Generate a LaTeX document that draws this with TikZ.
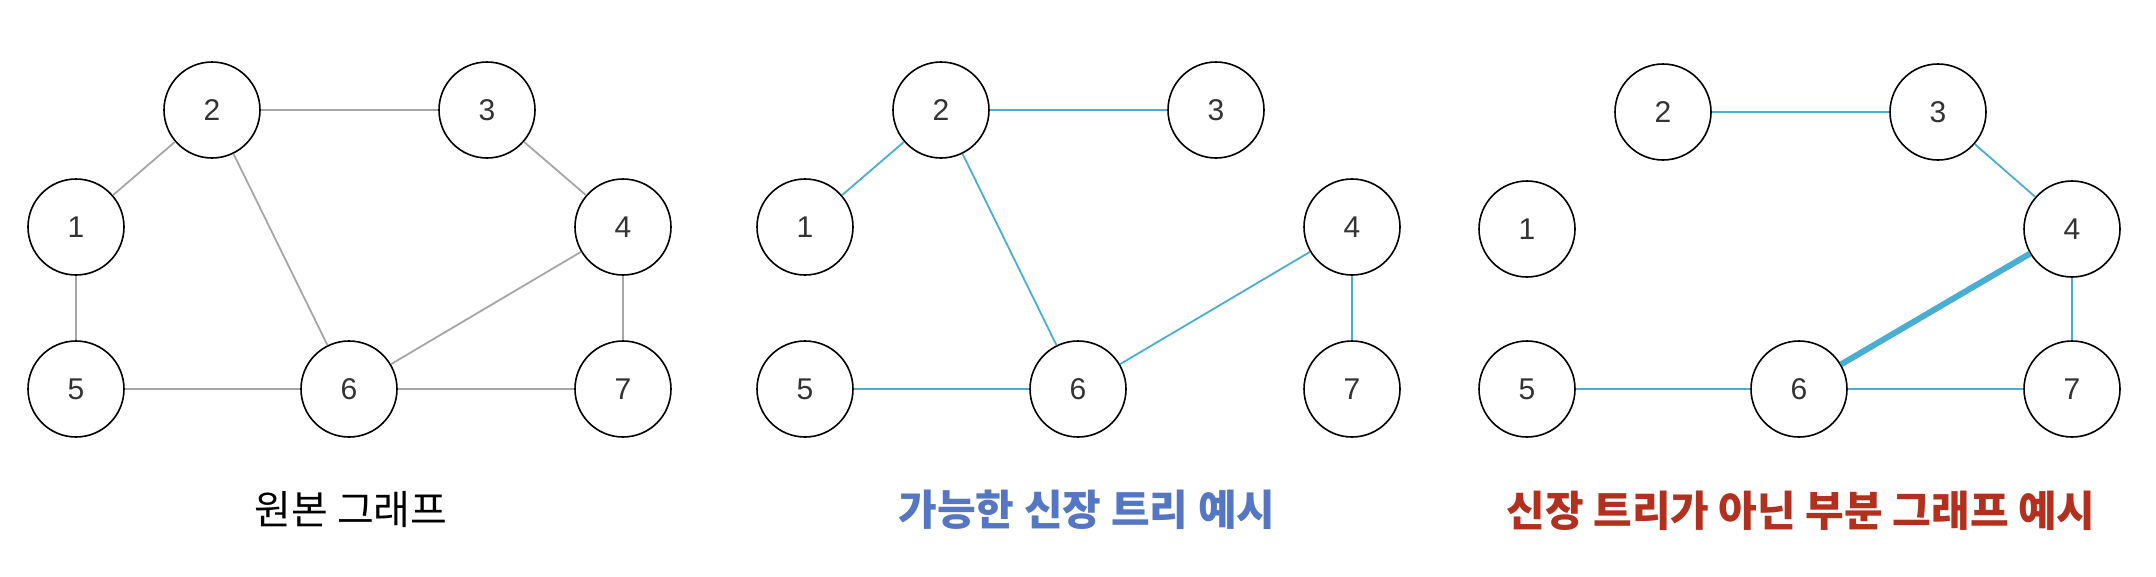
\documentclass[tikz,border=0pt]{standalone}
\usepackage{fontspec}
\setmainfont{Liberation Sans}
\newfontfamily\krfont{Noto Sans CJK KR}
\usepackage{tikz}

\definecolor{edgegray}{HTML}{A6A6A6}
\definecolor{treeblue}{HTML}{4AAED3}
\definecolor{titleblue}{HTML}{5577C3}
\definecolor{titlered}{HTML}{B3301F}

\begin{document}
\begin{tikzpicture}[x=1pt, y=-1pt,
	vertex/.style={circle, draw, line width=1.6pt, minimum size=96pt, inner sep=0pt, fill=white, text=black!80, font=\fontsize{30}{30}\selectfont},
	grayedge/.style={edgegray, line width=1.8pt},
	blueedge/.style={treeblue, line width=1.8pt},
	boldedge/.style={treeblue, line width=6pt},
	caption/.style={font=\krfont\fontsize{40}{40}\selectfont},
	boldcaption/.style={font=\krfont\bfseries\fontsize{42}{42}\selectfont}]
	\useasboundingbox (0,0) rectangle (2156,576);

	%Original graph
	\node[vertex] (a1) at (76,227) {1};
	\node[vertex] (a2) at (212,110) {2};
	\node[vertex] (a3) at (487,110) {3};
	\node[vertex] (a4) at (623,227) {4};
	\node[vertex] (a5) at (76,389) {5};
	\node[vertex] (a6) at (349,389) {6};
	\node[vertex] (a7) at (623,389) {7};
	\draw[grayedge] (a1) -- (a2);
	\draw[grayedge] (a2) -- (a3);
	\draw[grayedge] (a2) -- (a6);
	\draw[grayedge] (a3) -- (a4);
	\draw[grayedge] (a4) -- (a6);
	\draw[grayedge] (a1) -- (a5);
	\draw[grayedge] (a5) -- (a6);
	\draw[grayedge] (a6) -- (a7);
	\draw[grayedge] (a4) -- (a7);
	\node[caption] (capa) at (351,510) {원본 그래프};

	%Spanning tree
	\node[vertex] (b1) at (805,227) {1};
	\node[vertex] (b2) at (941,110) {2};
	\node[vertex] (b3) at (1216,110) {3};
	\node[vertex] (b4) at (1352,227) {4};
	\node[vertex] (b5) at (805,389) {5};
	\node[vertex] (b6) at (1078,389) {6};
	\node[vertex] (b7) at (1352,389) {7};
	\draw[blueedge] (b1) -- (b2);
	\draw[blueedge] (b2) -- (b3);
	\draw[blueedge] (b2) -- (b6);
	\draw[blueedge] (b5) -- (b6);
	\draw[blueedge] (b6) -- (b4);
	\draw[blueedge] (b4) -- (b7);
	\node[boldcaption, text=titleblue] (capb) at (1087,510) {가능한 신장 트리 예시};

	%Not a spanning tree
	\node[vertex] (c1) at (1527,229) {1};
	\node[vertex] (c2) at (1663,112) {2};
	\node[vertex] (c3) at (1938,112) {3};
	\node[vertex] (c4) at (2072,229) {4};
	\node[vertex] (c5) at (1527,389) {5};
	\node[vertex] (c6) at (1799,389) {6};
	\node[vertex] (c7) at (2072,389) {7};
	\draw[blueedge] (c2) -- (c3);
	\draw[blueedge] (c3) -- (c4);
	\draw[boldedge] (c4) -- (c6);
	\draw[blueedge] (c4) -- (c7);
	\draw[blueedge] (c5) -- (c6);
	\draw[blueedge] (c6) -- (c7);
	\node[boldcaption, text=titlered] (capc) at (1801,511) {신장 트리가 아닌 부분 그래프 예시};

\end{tikzpicture}
\end{document}
